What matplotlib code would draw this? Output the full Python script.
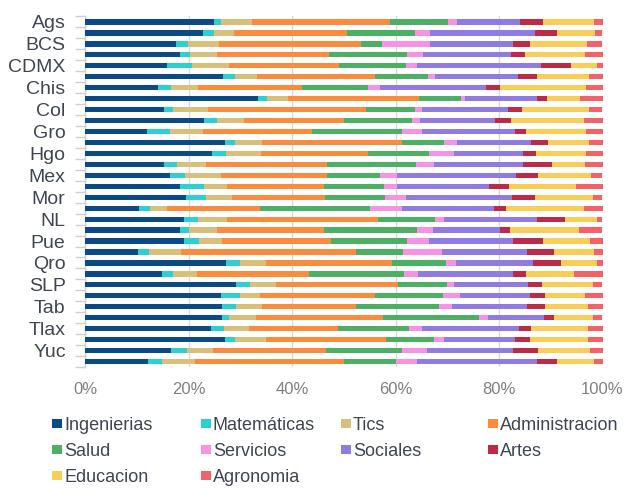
import matplotlib
matplotlib.use("Agg")
import matplotlib.pyplot as plt
from matplotlib.patches import Rectangle
import numpy as np

plt.rcParams['font.family'] = ['Liberation Sans', 'DejaVu Sans']

states = ["Ags", "BC", "BCS", "Camp", "CDMX", "Coah", "Chis", "Chih", "Col", "Dgo",
          "Gro", "Gto", "Hgo", "Jal", "Mex", "Mich", "Mor", "Nay", "NL", "Oax",
          "Pue", "QRoo", "Qro", "Sin", "SLP", "Son", "Tab", "Tamps", "Tlax", "Ver",
          "Yuc", "Zac"]
shown_labels = ["Ags", "BCS", "CDMX", "Chis", "Col", "Gro", "Hgo", "Mex", "Mor", "NL",
                "Pue", "Qro", "SLP", "Tab", "Tlax", "Yuc"]

ingenierias = [25.0, 22.8, 17.6, 18.4, 15.8, 26.7, 14.1, 33.5, 15.3, 23.0, 11.9, 27.1, 24.5, 15.3, 16.4, 18.4,
               19.6, 10.4, 19.1, 18.4, 19.1, 10.2, 27.3, 14.9, 29.2, 26.3, 26.5, 26.5, 24.3, 27.1, 16.6, 12.2]
matematicas = [1.3, 2.2, 2.4, 1.9, 4.8, 2.3, 2.5, 1.7, 1.8, 2.5, 4.5, 1.9, 2.7, 2.5, 2.9, 4.6,
               3.7, 2.2, 2.7, 1.7, 3.0, 2.2, 2.7, 2.2, 2.7, 3.7, 2.7, 1.3, 2.5, 1.9, 3.2, 2.7]
tics = [5.9, 3.7, 5.8, 5.2, 7.2, 4.2, 5.2, 4.0, 6.7, 5.2, 6.4, 5.2, 6.8, 5.5, 7.0, 4.5,
        5.2, 3.2, 5.7, 5.4, 4.4, 6.2, 5.0, 4.5, 5.0, 3.9, 5.0, 5.2, 4.9, 6.0, 5.0, 6.4]
administracion = [26.8, 21.9, 27.5, 21.6, 21.3, 22.8, 20.1, 25.3, 30.5, 19.3, 21.0, 27.0, 20.6, 23.5, 20.5, 18.6,
                  17.9, 18.1, 29.2, 20.6, 21.1, 33.7, 24.3, 21.7, 23.6, 22.1, 18.1, 24.5, 17.1, 23.2, 21.8, 28.7]
salud = [11.1, 13.2, 4.0, 15.1, 12.9, 10.2, 12.7, 8.2, 9.5, 13.2, 17.4, 8.2, 11.9, 17.2, 10.2, 11.6,
         11.6, 21.1, 11.0, 18.1, 14.6, 9.2, 10.4, 18.4, 9.4, 13.2, 16.2, 18.6, 13.9, 9.2, 14.7, 10.0]
servicios = [1.8, 2.9, 9.4, 3.2, 2.2, 1.4, 2.4, 0.7, 1.4, 1.5, 4.0, 2.5, 4.9, 3.4, 3.2, 2.5,
             4.0, 6.2, 1.7, 3.0, 4.3, 7.4, 1.9, 2.7, 1.5, 3.2, 2.4, 1.7, 2.5, 2.0, 4.7, 4.2]
sociales = [12.2, 20.3, 16.1, 16.9, 24.0, 16.1, 20.4, 13.9, 16.6, 14.6, 17.8, 14.3, 13.3, 17.3, 23.1, 17.9,
            20.6, 17.9, 17.9, 12.9, 16.3, 16.6, 14.9, 18.4, 14.3, 13.6, 14.6, 10.9, 18.6, 13.6, 16.8, 23.1]
artes = [4.4, 4.2, 3.2, 2.7, 5.8, 3.6, 2.7, 1.9, 2.7, 3.0, 2.3, 3.3, 2.5, 5.5, 4.2, 3.9,
         4.4, 2.2, 5.4, 2.0, 5.7, 5.2, 5.4, 2.5, 2.7, 2.9, 3.3, 2.0, 2.4, 3.0, 4.7, 3.9]
educacion = [9.9, 7.4, 11.1, 11.7, 4.9, 10.1, 16.8, 6.5, 12.9, 14.1, 11.6, 7.9, 9.7, 6.5, 10.2, 12.9,
             11.2, 15.1, 6.2, 13.3, 9.1, 7.7, 7.0, 9.1, 9.8, 7.8, 8.4, 7.5, 11.0, 11.2, 10.1, 7.2]
agronomia = [1.6, 1.4, 2.9, 3.3, 1.1, 2.6, 3.1, 4.3, 2.6, 3.6, 3.1, 2.6, 3.1, 3.3, 2.3, 5.1,
             1.8, 3.6, 1.1, 4.6, 2.4, 1.6, 1.1, 5.6, 1.8, 3.3, 2.8, 1.8, 2.8, 2.8, 2.4, 1.6]

series_names = ["Ingenierias", "Matemáticas", "Tics", "Administracion", "Salud",
                "Servicios", "Sociales", "Artes", "Educacion", "Agronomia"]
series_values = [ingenierias, matematicas, tics, administracion, salud,
                 servicios, sociales, artes, educacion, agronomia]
colors = ["#0B4A85", "#2ECFCF", "#D8BF7A", "#F98C3D", "#4CAF63",
          "#F693E3", "#907BE0", "#BB2A46", "#F9CE58", "#F36266"]

W, H = 640, 490
fig = plt.figure(figsize=(6.4, 4.9), dpi=100)
ax_left, ax_right, ax_top, ax_bottom = 85, 602.5, 16.5, 367
ax = fig.add_axes([ax_left / W, 1 - ax_bottom / H, (ax_right - ax_left) / W, (ax_bottom - ax_top) / H])

data = np.array(series_values, dtype=float)
totals = data.sum(axis=0)
pct = data / totals * 100
y = np.arange(len(states))
left = np.zeros(len(states))
for vals, c in zip(pct, colors):
    ax.barh(y, vals, left=left, height=0.48, color=c, linewidth=0, zorder=3)
    left += vals

ax.set_xlim(0, 100)
ax.set_ylim(len(states) - 0.5, -0.5)
ax.set_xticks(np.arange(0, 101, 20))
ax.set_xticklabels([f"{v}%" for v in range(0, 101, 20)])
ax.tick_params(axis='x', length=0, pad=11, labelsize=12, labelcolor='#808080')
ax.grid(axis='x', color='#D9D9D9', linewidth=1, zorder=0)

label_pos = [states.index(s) for s in shown_labels]
ax.set_yticks(label_pos)
ax.set_yticklabels(shown_labels)
ax.tick_params(axis='y', which='major', length=0, pad=14, labelsize=14, labelcolor='#404554')
ax.set_yticks(np.arange(-0.5, len(states), 1.0), minor=True)
ax.tick_params(axis='y', which='minor', length=7, width=1, color='#D0D0D0')

for s in ['top', 'right', 'bottom']:
    ax.spines[s].set_visible(False)
ax.spines['left'].set_color('#D0D0D0')
ax.spines['left'].set_linewidth(1)

# legend (row-wise, 4 columns)
col_x = [52, 201, 341, 488]
row_y = [423, 449, 475.5]
for i, (name, c) in enumerate(zip(series_names, colors)):
    r, k = divmod(i, 4)
    xm, ym = col_x[k], row_y[r]
    fig.add_artist(Rectangle((xm / W, 1 - (ym + 4.5) / H), 10 / W, 9 / H,
                             transform=fig.transFigure, color=c, linewidth=0))
    fig.text((xm + 12) / W, 1 - ym / H, name, ha='left', va='center_baseline',
             fontsize=13, color='#404554')

fig.savefig("out.png", dpi=100)
